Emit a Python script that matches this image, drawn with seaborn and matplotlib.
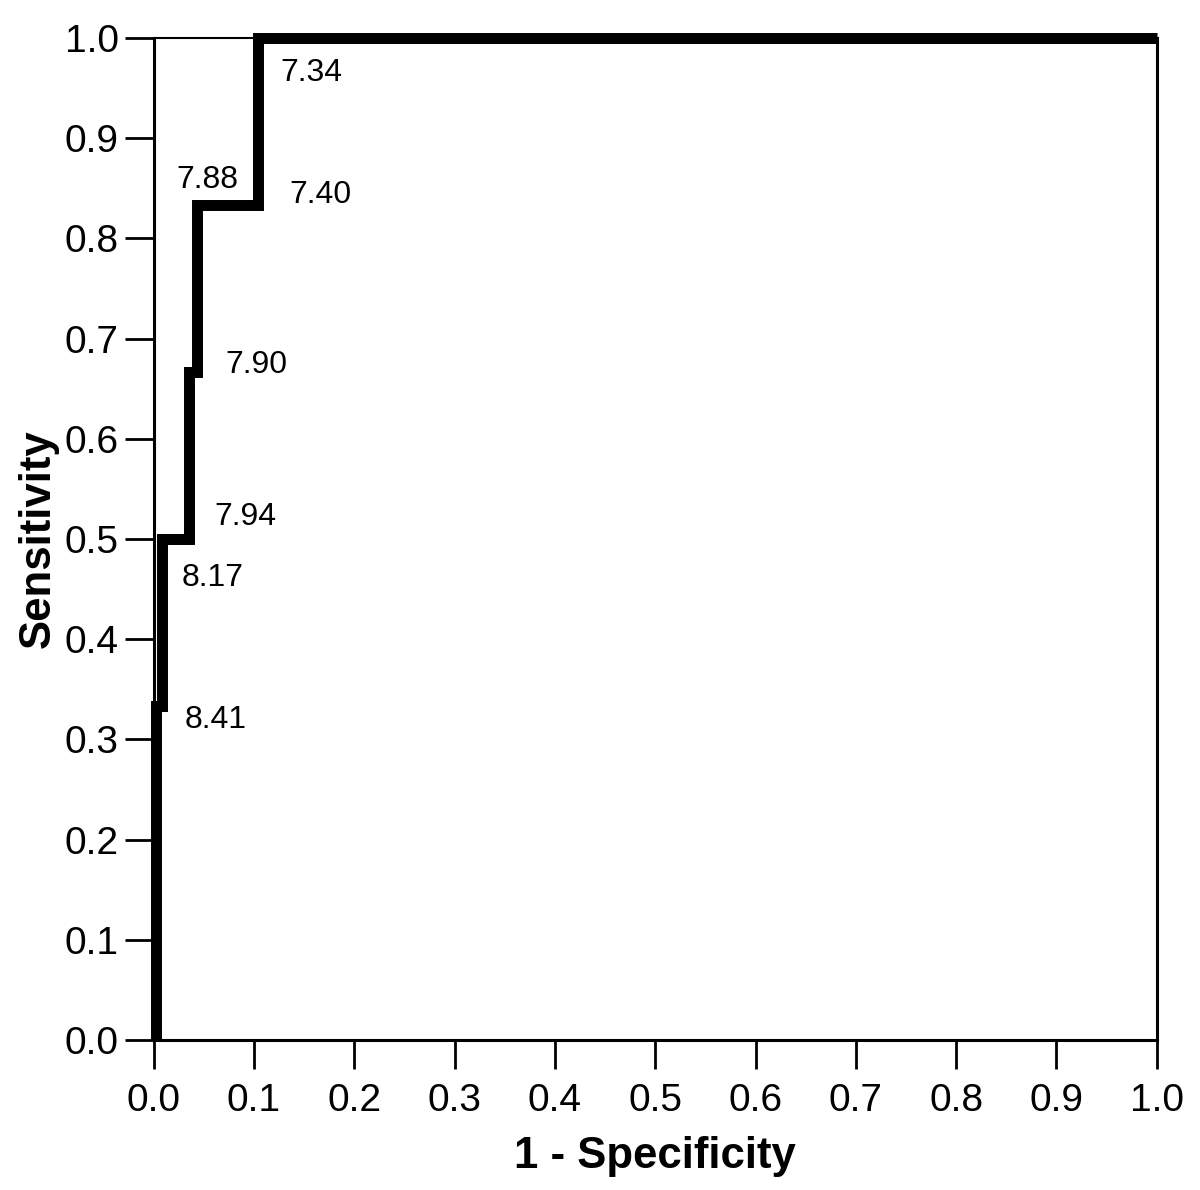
import matplotlib
matplotlib.use("Agg")
import matplotlib.pyplot as plt
import seaborn as sns

# ROC step curve
fpr = [0.002, 0.002, 0.008, 0.008, 0.035, 0.035, 0.043, 0.043, 0.104, 0.104, 1.0]
tpr = [0.0, 0.333, 0.333, 0.5, 0.5, 0.667, 0.667, 0.833, 0.833, 1.0, 1.0]

# cut-off labels and where they sit
cut_labels = ["7.34", "7.88", "7.40", "7.90", "7.94", "8.17", "8.41"]
cut_x = [0.157, 0.054, 0.166, 0.102, 0.092, 0.059, 0.062]
cut_y = [0.965, 0.858, 0.843, 0.674, 0.522, 0.461, 0.319]

ticks = [0.0, 0.1, 0.2, 0.3, 0.4, 0.5, 0.6, 0.7, 0.8, 0.9, 1.0]

sns.set_style("ticks")
plt.rcParams["font.family"] = ["Liberation Sans", "DejaVu Sans"]
plt.rcParams["text.color"] = "black"
plt.rcParams["axes.labelcolor"] = "black"
plt.rcParams["xtick.color"] = "black"
plt.rcParams["ytick.color"] = "black"

fig = plt.figure(figsize=(12, 11.9), dpi=100)
ax = fig.add_axes([0.128, 0.126, 0.836, 0.842])

sns.lineplot(x=fpr, y=tpr, sort=False, estimator=None, color="black", lw=7.9,
             ax=ax, clip_on=False, solid_joinstyle="miter", solid_capstyle="butt")

for lab, x, y in zip(cut_labels, cut_x, cut_y):
    ax.text(x, y, lab, fontsize=23, ha="center", va="center", color="black")

ax.set_xlim(0, 1)
ax.set_ylim(0, 1)
ax.set_xticks(ticks)
ax.set_yticks(ticks)
ax.set_xticklabels([f"{t:.1f}" for t in ticks])
ax.set_yticklabels([f"{t:.1f}" for t in ticks])
ax.tick_params(direction="out", length=21, width=2, labelsize=28, color="black")
ax.tick_params(axis="x", pad=10)
ax.tick_params(axis="y", pad=4)

for side in ["left", "bottom", "right"]:
    ax.spines[side].set_linewidth(2.2)
    ax.spines[side].set_color("black")
ax.spines["top"].set_linewidth(1.5)
ax.spines["top"].set_color("black")

ax.set_xlabel("1 - Specificity", fontsize=31.5, fontweight="bold", labelpad=12)
ax.set_ylabel("Sensitivity", fontsize=31.5, fontweight="bold", labelpad=4)

fig.savefig("out.png", dpi=100)
